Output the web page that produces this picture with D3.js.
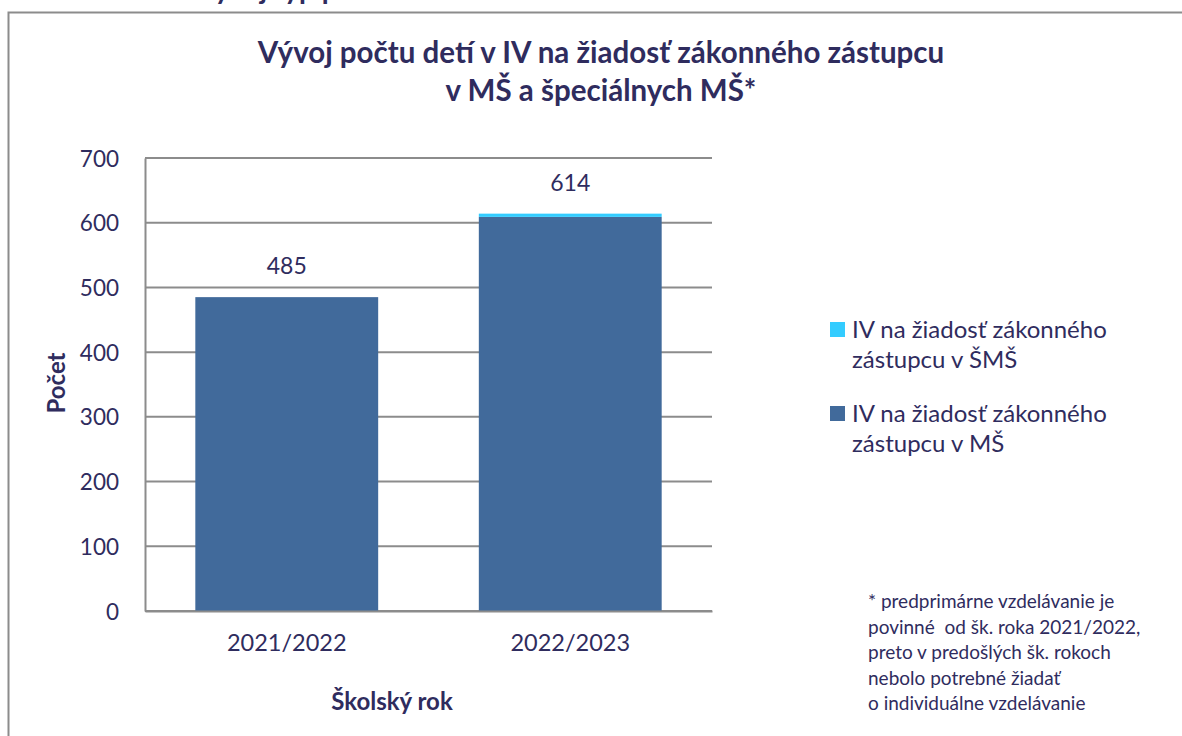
<!DOCTYPE html>
<html>
<head>
<meta charset="utf-8">
<script src="https://cdn.jsdelivr.net/npm/d3@7"></script>
<style>
  body { margin: 0; background: #fff; }
  text { font-family: Lato, "Open Sans", sans-serif; fill: #2f2c5e; }
</style>
</head>
<body>
<div id="chart"></div>
<script>
// data
let years = ['2021/2022', '2022/2023']
let msValues = [485, 609]     // IV na žiadosť zákonného zástupcu v MŠ
let smsValues = [0, 5]        // IV na žiadosť zákonného zástupcu v ŠMŠ
let yTicks = [0, 100, 200, 300, 400, 500, 600, 700]
let seriesNames = ['IV na žiadosť zákonného zástupcu v ŠMŠ', 'IV na žiadosť zákonného zástupcu v MŠ']
let seriesColors = ['#33ccff', '#416a9b']
let footnote = [
  '* predprimárne vzdelávanie je',
  'povinné  od šk. roka 2021/2022,',
  'preto v predošlých šk. rokoch',
  'nebolo potrebné žiadať',
  'o individuálne vzdelávanie'
]

let W = 1182, H = 736
let margin = {left: 145, top: 158}
let width1 = 567, height1 = 453

let svg = d3.select('#chart').append('svg')
  .attr('width', W)
  .attr('height', H)

// clipped heading left over from the page above
svg.append('text')
  .attr('x', 196)
  .attr('y', -1)
  .attr('font-size', '28px')
  .attr('font-weight', 'bold')
  .text('Vývoj typ počtu')

// outer frame
svg.append('rect')
  .attr('x', 8.5).attr('y', 12.5)
  .attr('width', W + 20).attr('height', H + 20)
  .attr('fill', 'none')
  .attr('stroke', '#8c8c8c')
  .attr('stroke-width', 2)

// title
let title = svg.append('text')
  .attr('text-anchor', 'middle')
  .attr('font-size', '29.5px')
  .attr('font-weight', 'bold')
title.append('tspan').attr('x', 601).attr('y', 63).text('Vývoj počtu detí v IV na žiadosť zákonného zástupcu')
title.append('tspan').attr('x', 601).attr('y', 101).text('v MŠ a špeciálnych MŠ*')

let g = svg.append('g')
  .attr('transform', 'translate(' + margin.left + ', ' + margin.top + ')')

let x = d3.scaleBand()
  .domain(years)
  .range([0, width1])
  .paddingInner(0.355)
  .paddingOuter(0.1775)

let y = d3.scaleLinear()
  .domain([0, 700])
  .range([height1, 0])

// gridlines
g.selectAll('.grid')
  .data(yTicks)
  .enter().append('line')
  .attr('class', 'grid')
  .attr('x1', 0).attr('x2', width1)
  .attr('y1', d => y(d)).attr('y2', d => y(d))
  .attr('stroke', '#8c8c8c')
  .attr('stroke-width', 2)

// y axis
let yAxisGroup = g.append('g')
  .call(d3.axisLeft(y).tickValues(yTicks).tickSize(0).tickPadding(26))
yAxisGroup.select('.domain').attr('stroke', '#8c8c8c').attr('stroke-width', 2)
yAxisGroup.selectAll('text')
  .attr('font-size', '22.5px')
  .attr('font-family', 'Lato, sans-serif')
  .attr('fill', '#2f2c5e')
  .attr('dy', '0.36em')

// stacked bars
let stackData = years.map((yr, i) => ({year: yr, ms: msValues[i], sms: smsValues[i]}))
let stacked = d3.stack().keys(['ms', 'sms'])(stackData)
let colorOf = {ms: seriesColors[1], sms: seriesColors[0]}

g.selectAll('.layer')
  .data(stacked)
  .enter().append('g')
  .attr('class', 'layer')
  .attr('fill', d => colorOf[d.key])
  .selectAll('rect')
  .data(d => d)
  .enter().append('rect')
  .attr('x', d => x(d.data.year))
  .attr('width', x.bandwidth())
  .attr('y', d => y(d[1]))
  .attr('height', d => y(d[0]) - y(d[1]))

// x axis
let xAxisGroup = g.append('g')
  .attr('transform', 'translate(0,' + height1 + ')')
  .call(d3.axisBottom(x).tickSize(0).tickPadding(23))
xAxisGroup.select('.domain').attr('stroke', '#8c8c8c').attr('stroke-width', 2)
xAxisGroup.selectAll('text')
  .attr('font-size', '23.5px')
  .attr('font-family', 'Lato, sans-serif')
  .attr('fill', '#2f2c5e')

// totals above bars
g.selectAll('.total')
  .data(stackData)
  .enter().append('text')
  .attr('class', 'total')
  .attr('x', d => x(d.year) + x.bandwidth() / 2)
  .attr('y', d => y(d.ms + d.sms) - 23)
  .attr('text-anchor', 'middle')
  .attr('font-size', '23px')
  .text(d => d.ms + d.sms)

// axis titles
svg.append('text')
  .attr('x', 392)
  .attr('y', 710)
  .attr('text-anchor', 'middle')
  .attr('font-size', '24px')
  .attr('font-weight', 'bold')
  .text('Školský rok')

svg.append('text')
  .attr('transform', 'translate(65, 383) rotate(-90)')
  .attr('text-anchor', 'middle')
  .attr('font-size', '24px')
  .attr('font-weight', 'bold')
  .text('Počet')

// legend
let legend = svg.selectAll('.legend')
  .data(seriesNames)
  .enter().append('g')
  .attr('class', 'legend')
  .attr('transform', (d, i) => 'translate(830,' + (322 + i * 84) + ')')

legend.append('rect')
  .attr('width', 15).attr('height', 15)
  .attr('fill', (d, i) => seriesColors[i])

let legText = legend.append('text')
  .attr('font-size', '24px')
legText.append('tspan').attr('x', 22).attr('y', 16).text(d => d.split(' ').slice(0, 4).join(' '))
legText.append('tspan').attr('x', 22).attr('y', 46).text(d => d.split(' ').slice(4).join(' '))

// footnote
svg.append('text')
  .attr('font-size', '19px')
  .selectAll('tspan')
  .data(footnote)
  .enter().append('tspan')
  .attr('x', 868)
  .attr('y', (d, i) => 608 + i * 25.5)
  .attr('xml:space', 'preserve')
  .text(d => d)
</script>
</body>
</html>
